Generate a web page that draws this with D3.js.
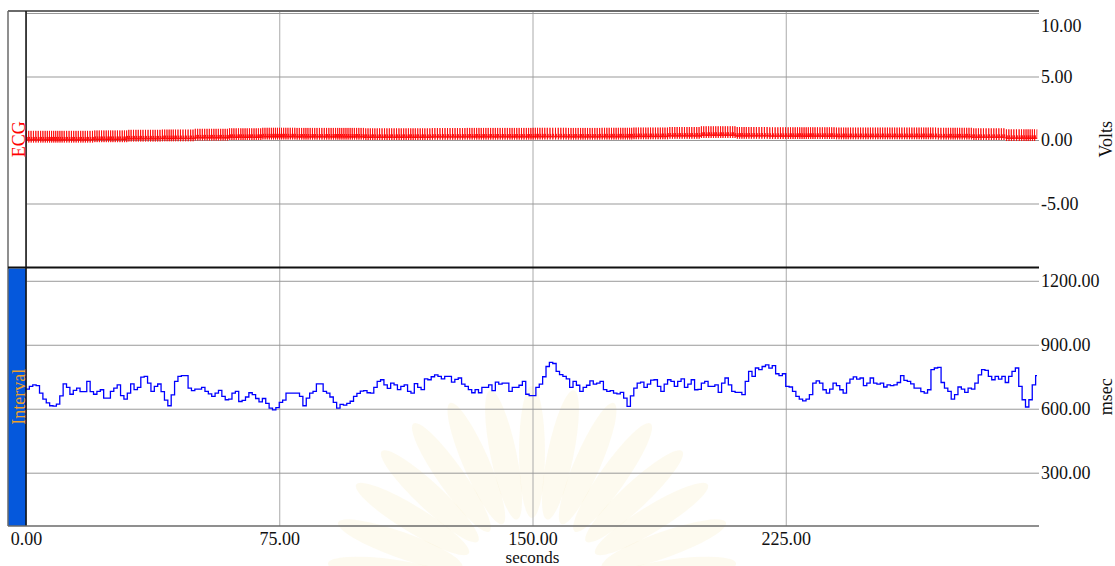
<!DOCTYPE html>
<html>
<head>
<meta charset="utf-8">
<script src="https://cdn.jsdelivr.net/npm/d3@7"></script>
<style>
  body { margin: 0; background: #fff; }
  svg { display: block; }
  text { font-family: "Liberation Serif", "Times New Roman", serif; }
</style>
</head>
<body>
<svg id="chart" width="1115" height="566"></svg>
<script>
// ---- data -------------------------------------------------------------
// R-R interval (msec), one reading per second of the recording
const intervalMs = [
  692, 705, 712, 708, 673, 645, 627, 614, 612, 622,
  660, 717, 700, 668, 686, 697, 680, 680, 728, 680,
  668, 681, 689, 650, 650, 681, 697, 712, 661, 645,
  673, 717, 690, 700, 748, 752, 720, 681, 705, 716,
  680, 640, 614, 665, 728, 752, 755, 755, 697, 685,
  692, 692, 700, 681, 670, 658, 673, 686, 658, 642,
  645, 673, 681, 634, 639, 655, 675, 666, 648, 632,
  648, 625, 603, 595, 605, 630, 640, 673, 673, 673,
  673, 658, 614, 650, 673, 681, 717, 717, 681, 673,
  655, 630, 603, 620, 617, 625, 635, 658, 672, 683,
  685, 675, 673, 700, 728, 736, 712, 695, 720, 712,
  690, 705, 712, 681, 673, 718, 700, 690, 740, 736,
  750, 759, 752, 740, 752, 752, 725, 738, 744, 715,
  705, 690, 675, 690, 675, 700, 700, 712, 685, 725,
  715, 720, 720, 681, 700, 700, 710, 728, 668, 661,
  661, 700, 715, 750, 798, 817, 812, 775, 760, 752,
  740, 700, 728, 710, 681, 700, 710, 731, 715, 720,
  728, 690, 681, 685, 673, 670, 677, 650, 611, 660,
  697, 720, 725, 700, 715, 734, 736, 705, 681, 715,
  736, 728, 705, 728, 740, 700, 715, 736, 689, 691,
  720, 728, 705, 705, 712, 677, 720, 744, 712, 681,
  677, 677, 666, 728, 775, 752, 791, 783, 798, 806,
  790, 802, 764, 755, 764, 705, 702, 681, 658, 645,
  637, 645, 666, 720, 731, 720, 689, 673, 692, 720,
  708, 689, 673, 720, 739, 749, 739, 744, 708, 720,
  744, 720, 715, 720, 702, 712, 708, 712, 723, 755,
  733, 728, 717, 697, 697, 680, 673, 689, 783, 791,
  794, 723, 697, 681, 645, 666, 702, 692, 677, 697,
  692, 720, 759, 783, 780, 752, 736, 752, 739, 752,
  723, 752, 775, 791, 705, 642, 608, 642, 712, 755
];
const recordEnd = 299.4;            // seconds

// ECG baseline level (Volts), one value per 10-second block
const ecgBaseline = [
  0.02, 0.02, 0.05, 0.10, 0.12, 0.18, 0.22, 0.26, 0.25, 0.25,
  0.22, 0.22, 0.24, 0.25, 0.25, 0.26, 0.25, 0.26, 0.28, 0.32,
  0.38, 0.32, 0.30, 0.30, 0.28, 0.28, 0.28, 0.26, 0.22, 0.14
];
// one heartbeat: [seconds after beat onset, Volts above baseline]
const ecgBeat = [
  [0.00, 0.02], [0.08, -0.05], [0.11, 0.70], [0.14, -0.22],
  [0.24, 0.08], [0.34, 0.22], [0.46, -0.06], [0.58, 0.04]
];

const timeTicks = [0, 75, 150, 225];
const voltTicks = [10, 5, 0, -5];
const msecTicks = [1200, 900, 600, 300];

// ---- layout -----------------------------------------------------------
const frameLeft = 8, plotLeft = 26, plotRight = 1039;
const frameTop = 11, split = 267.5, frameBottom = 526;

const svg = d3.select("#chart");

const x = d3.scaleLinear().domain([0, 300]).range([plotLeft, plotRight]);
const yVolt = d3.scaleLinear().domain([-10, 10]).range([267, 13]);
const yMsec = d3.scaleLinear().domain([50, 1260]).range([frameBottom, 268]);

// ---- faint emblem behind the plot -------------------------------------
const emblem = svg.append("g").attr("transform", "translate(532,592)");
d3.range(15).forEach(i => {
  const ang = 188 + i * (164 / 14);
  emblem.append("ellipse")
    .attr("cx", 0).attr("cy", -140).attr("rx", 13).attr("ry", 66)
    .attr("transform", `rotate(${ang + 90})`)
    .attr("fill", "#f4e6b4").attr("opacity", 0.22);
});
emblem.append("circle").attr("r", 62).attr("fill", "#fff");

// ---- sidebar ----------------------------------------------------------
svg.append("rect")
  .attr("x", frameLeft).attr("y", 268.5)
  .attr("width", plotLeft - frameLeft).attr("height", frameBottom - 268.5)
  .attr("fill", "#0558dc");

// ---- grid + tick labels -----------------------------------------------
const fmt = d => d3.format(".2f")(d).replace("\u2212", "-");

const xAxis = svg.append("g")
  .attr("transform", `translate(0,${frameBottom})`)
  .call(d3.axisBottom(x).tickValues(timeTicks).tickFormat(fmt)
    .tickSize(-(frameBottom - frameTop)).tickPadding(6));

const vAxis = svg.append("g")
  .attr("transform", `translate(${plotRight},0)`)
  .call(d3.axisRight(yVolt).tickValues(voltTicks).tickFormat(fmt)
    .tickSize(-(plotRight - plotLeft)).tickPadding(2));

const mAxis = svg.append("g")
  .attr("transform", `translate(${plotRight},0)`)
  .call(d3.axisRight(yMsec).tickValues(msecTicks).tickFormat(fmt)
    .tickSize(-(plotRight - plotLeft)).tickPadding(2));

[xAxis, vAxis, mAxis].forEach(g => {
  g.attr("font-family", null).attr("font-size", null);
  g.select(".domain").remove();
  g.selectAll("text").attr("font-size", 18).attr("fill", "#111");
});
xAxis.selectAll("line").attr("stroke", "#aaa");
vAxis.selectAll("line").attr("stroke", "#999");
mAxis.selectAll("line").attr("stroke", "#999");
// the top label sits just inside the frame
vAxis.selectAll(".tick").filter(d => d === 10).select("text").attr("dy", "1.0em");

// ---- ECG trace --------------------------------------------------------
const beats = [];
for (let t = 0; t < recordEnd; t += intervalMs[Math.floor(t)] / 1000) beats.push(t);
const ecgPts = [];
beats.forEach((b, k) => {
  const next = k + 1 < beats.length ? beats[k + 1] : recordEnd;
  ecgBeat.forEach(([dt, dv]) => {
    const t = b + dt;
    if (t < next && t <= recordEnd) ecgPts.push({ t, v: ecgBaseline[Math.min(29, Math.floor(t / 10))] + dv });
  });
});
svg.append("path")
  .datum(ecgPts)
  .attr("fill", "none").attr("stroke", "#ff0000").attr("stroke-width", 0.8)
  .attr("d", d3.line().x(d => x(d.t)).y(d => yVolt(d.v)));

// ---- interval tachogram -----------------------------------------------
const intPts = intervalMs.map((v, i) => ({ t: i, v }));
intPts.push({ t: recordEnd, v: intervalMs[intervalMs.length - 1] });
svg.append("path")
  .datum(intPts)
  .attr("fill", "none").attr("stroke", "#0000ff").attr("stroke-width", 1.3)
  .attr("d", d3.line().x(d => x(d.t)).y(d => yMsec(d.v)).curve(d3.curveStepAfter));

// ---- frame ------------------------------------------------------------
const frame = svg.append("g");
frame.append("line").attr("x1", frameLeft).attr("x2", plotRight).attr("y1", frameTop).attr("y2", frameTop)
  .attr("stroke", "#6a6a6a").attr("stroke-width", 2);
frame.append("line").attr("x1", frameLeft).attr("x2", frameLeft).attr("y1", frameTop).attr("y2", frameBottom)
  .attr("stroke", "#6a6a6a").attr("stroke-width", 1.5);
frame.append("line").attr("x1", plotLeft).attr("x2", plotLeft).attr("y1", frameTop).attr("y2", frameBottom)
  .attr("stroke", "#111").attr("stroke-width", 1.5);
frame.append("line").attr("x1", frameLeft).attr("x2", plotRight).attr("y1", split).attr("y2", split)
  .attr("stroke", "#111").attr("stroke-width", 2);
frame.append("line").attr("x1", frameLeft).attr("x2", plotRight).attr("y1", frameBottom).attr("y2", frameBottom)
  .attr("stroke", "#6a6a6a").attr("stroke-width", 1.5);

// ---- titles -----------------------------------------------------------
svg.append("text").text("ECG")
  .attr("transform", `translate(25,${(frameTop + split) / 2}) rotate(-90)`)
  .attr("text-anchor", "middle").attr("font-size", 18).attr("fill", "#ff0000");
svg.append("text").text("Interval")
  .attr("transform", `translate(25,${(split + frameBottom) / 2}) rotate(-90)`)
  .attr("text-anchor", "middle").attr("font-size", 18).attr("fill", "#f0a028");
svg.append("text").text("Volts")
  .attr("transform", `translate(1112,${(frameTop + split) / 2}) rotate(-90)`)
  .attr("text-anchor", "middle").attr("font-size", 18).attr("fill", "#111");
svg.append("text").text("msec")
  .attr("transform", `translate(1112,${(split + frameBottom) / 2}) rotate(-90)`)
  .attr("text-anchor", "middle").attr("font-size", 18).attr("fill", "#111");
svg.append("text").text("seconds")
  .attr("x", x(150)).attr("y", 563)
  .attr("text-anchor", "middle").attr("font-size", 17).attr("fill", "#111");
</script>
</body>
</html>
